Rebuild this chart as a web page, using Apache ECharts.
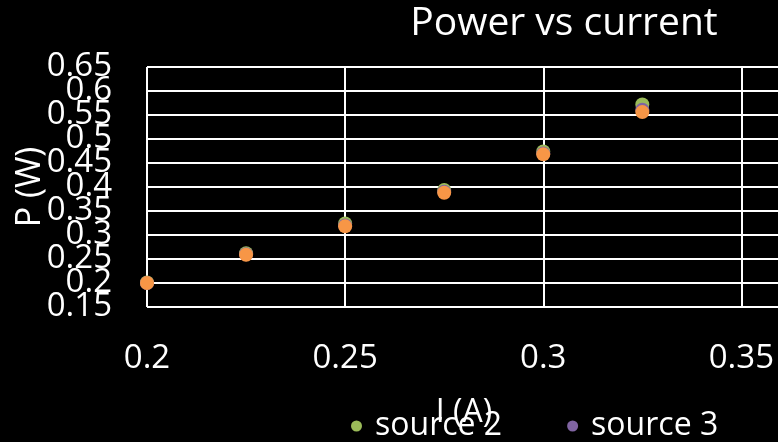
<!DOCTYPE html>
<html>
<head>
<meta charset="utf-8">
<script src="https://cdn.jsdelivr.net/npm/echarts@6/dist/echarts.min.js"></script>
<style>
  html, body { margin: 0; padding: 0; background: #000; }
  #chart { width: 778px; height: 442px; }
</style>
</head>
<body>
<div id="chart"></div>
<script>
// Current (A) at each measurement
const currents = [0.2, 0.225, 0.25, 0.275, 0.3, 0.325];
// Power (W) measured for each source
const source2 = [0.201, 0.262, 0.324, 0.394, 0.474, 0.572];
const source3 = [0.200, 0.260, 0.320, 0.390, 0.470, 0.561];
const source5 = [0.200, 0.259, 0.318, 0.388, 0.468, 0.556];
// Axis tick values
const xTicks = [0.2, 0.25, 0.3, 0.35];
const yTicks = [0.15, 0.2, 0.25, 0.3, 0.35, 0.4, 0.45, 0.5, 0.55, 0.6, 0.65];

const font = '"Open Sans", "Noto Sans", sans-serif';
const pairs = ys => currents.map((x, i) => [x, ys[i]]);
const near = (a, b) => Math.abs(a - b) < 1e-9;

// The y tick labels are tall and overlap each other, so they are split over two
// stacked axes (odd and even ticks) to keep every one of them visible.
function yLabelAxis(parity, withGrid) {
  return {
    type: 'value', min: 0.15, max: 0.65, interval: 0.05, position: 'left', offset: 0,
    axisLine: { show: false }, axisTick: { show: false },
    name: withGrid ? 'P (W)' : '', nameLocation: 'middle', nameGap: 100, nameRotate: 90,
    nameMoveOverlap: false,
    nameTextStyle: { color: '#fff', fontFamily: font, fontSize: 34 },
    axisLabel: {
      color: '#fff', fontFamily: font, fontSize: 33, margin: 35,
      showMinLabel: parity === 0, showMaxLabel: parity === 0,
      formatter: v => {
        const i = yTicks.findIndex(t => near(t, v));
        return i >= 0 && i % 2 === parity ? String(yTicks[i]) : '';
      }
    },
    splitLine: { show: withGrid, lineStyle: { color: '#fff', width: 2 } }
  };
}

const chart = echarts.init(document.getElementById('chart'), null, { renderer: 'canvas' });
chart.setOption({
  backgroundColor: '#000',
  animation: false,
  title: {
    text: 'Power vs current',
    left: 559, top: -1, textAlign: 'center',
    textStyle: { color: '#fff', fontFamily: font, fontSize: 39, fontWeight: 'normal' }
  },
  legend: {
    data: ['source 2', 'source 3'],
    left: 346, top: 405,
    icon: 'circle', itemWidth: 11, itemHeight: 11, itemGap: 65,
    textStyle: { color: '#fff', fontFamily: font, fontSize: 32, padding: [0, 0, 0, 8] }
  },
  grid: { left: 147, top: 67, height: 240, width: 634, outerBoundsMode: 'none', containLabel: false },
  xAxis: {
    type: 'value', min: 0.2, max: 0.36, interval: 0.05,
    name: 'I (A)', nameLocation: 'middle', nameGap: 90, nameMoveOverlap: false,
    nameTextStyle: { color: '#fff', fontFamily: font, fontSize: 32 },
    axisLine: { show: false }, axisTick: { show: false },
    axisLabel: {
      color: '#fff', fontFamily: font, fontSize: 33, margin: 35,
      formatter: v => xTicks.some(t => near(t, v)) ? String(+v.toFixed(3)) : ''
    },
    splitLine: { show: true, lineStyle: { color: '#fff', width: 2 } }
  },
  yAxis: [yLabelAxis(0, true), yLabelAxis(1, false)],
  series: [
    { name: 'source 2', type: 'scatter', data: pairs(source2), symbolSize: 14,
      itemStyle: { color: '#9BBB59', opacity: 1 } },
    { name: 'source 3', type: 'scatter', data: pairs(source3), symbolSize: 14,
      itemStyle: { color: '#8064A2', opacity: 1 } },
    { name: 'source 5', type: 'scatter', data: pairs(source5), symbolSize: 14,
      itemStyle: { color: '#F79646', opacity: 1 } }
  ]
});
</script>
</body>
</html>
